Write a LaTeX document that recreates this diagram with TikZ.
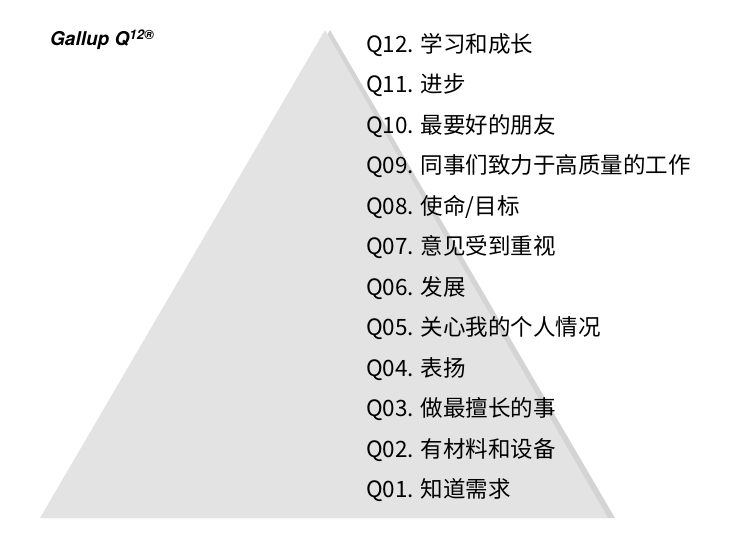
\documentclass[tikz,border=0pt]{standalone}
\usepackage{fontspec}
\setmainfont{Noto Sans CJK SC}
\newfontfamily\heros{TeX Gyre Heros}
\definecolor{pyr}{HTML}{E3E3E3}
\definecolor{pyrshadow}{HTML}{D4D4D4}
\begin{document}
\begin{tikzpicture}[x=1pt,y=-1pt,
  item/.style={anchor=west,inner sep=0pt,font=\fontsize{22.5}{24}\selectfont}]
\useasboundingbox (0,0) rectangle (750,538);
\fill[pyrshadow] (330,30) -- (615,518) -- (44,518) -- cycle;
\fill[pyr] (325,30) -- (608,518) -- (40,518) -- cycle;
\node[anchor=west,inner sep=0pt,font=\heros\bfseries\itshape\fontsize{19}{21}\selectfont] (title) at (50,40) {Gallup Q\textsuperscript{12®}};
\foreach \t [count=\i from 0] in {Q12. 学习和成长, Q11. 进步, Q10. 最要好的朋友, Q09. 同事们致力于高质量的工作, Q08. 使命/目标, Q07. 意见受到重视, Q06. 发展, Q05. 关心我的个人情况, Q04. 表扬, Q03. 做最擅长的事, Q02. 有材料和设备, Q01. 知道需求}
  \node[item] (q\i) at (366,{45+40.5*\i}) {\t};
\end{tikzpicture}
\end{document}
